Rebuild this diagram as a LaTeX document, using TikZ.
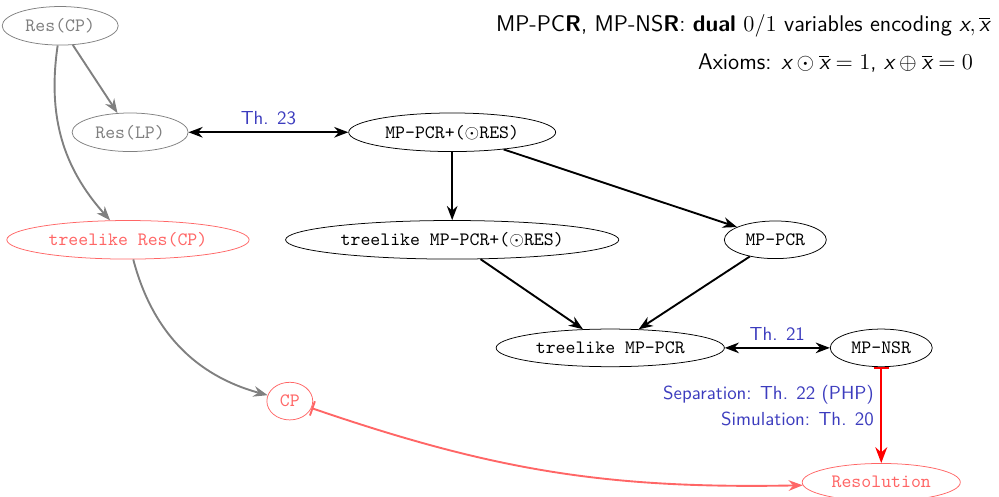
\documentclass[tikz,border=0pt]{standalone}
\usepackage{amsmath}
\usetikzlibrary{arrows.meta,shapes.geometric}
\definecolor{thblue}{RGB}{60,60,190}
\definecolor{lightred}{RGB}{255,102,102}
\begin{document}
\begin{tikzpicture}[
          >={Stealth},
          every node/.style={font=\ttfamily},
          sys/.style={draw, ellipse, minimum height=0.7cm},
          weak/.style={sys, draw=gray, text=gray},
          tree/.style={sys, draw=lightred, text=lightred},
          proves/.style={->, line width=1pt},
          weakproves/.style={->, line width=1pt, gray},
          thm/.style={font=\sffamily, text=thblue}
        ]
        \useasboundingbox (0,0) rectangle (18.58,-9.24);

        % Resolution side
        \node[weak] (rescp) at (1.12,-0.48) {Res(CP)};
        \node[weak] (reslp) at (2.42,-2.46) {Res(LP)};
        \node[tree] (trescp) at (2.38,-4.46) {treelike Res(CP)};
        \node[tree] (cp) at (5.39,-7.46) {CP};
        \node[tree] (resol) at (16.39,-8.97) {Resolution};

        % MP side
        \node[sys] (pcrres) at (8.41,-2.46) {MP-PCR+($\odot$RES)};
        \node[sys] (tpcrres) at (8.41,-4.46) {treelike MP-PCR+($\odot$RES)};
        \node[sys] (pcr) at (14.42,-4.46) {MP-PCR};
        \node[sys] (tpcr) at (11.35,-6.47) {treelike MP-PCR};
        \node[sys] (nsr) at (16.39,-6.47) {MP-NSR};

        % Header text
        \node[font=\sffamily\large, anchor=east] (head) at (18.53,-0.48)
          {MP-PC\textbf{R}, MP-NS\textbf{R}: \textbf{dual} $0/1$ variables encoding $\textsf{\itshape x}, \overline{\textsf{\itshape x}}$};
        \node[font=\sffamily\large, anchor=east] (axioms) at (18.22,-1.17)
          {Axioms: $\textsf{\itshape x}\odot\overline{\textsf{\itshape x}}=1$, $\textsf{\itshape x}\oplus\overline{\textsf{\itshape x}}=0$};

        % Gray edges
        \draw[weakproves] (rescp) -- (reslp);
        \draw[weakproves] (rescp) to[bend right=25] (trescp);
        \draw[weakproves] (trescp) to[bend right=30] (cp);

        % Black edges
        \draw[<->, line width=1pt] (reslp) -- node[thm, above] {Th. 23} (pcrres);
        \draw[proves] (pcrres) -- (tpcrres);
        \draw[proves] (pcrres) -- (pcr);
        \draw[proves] (tpcrres) -- (tpcr);
        \draw[proves] (pcr) -- (tpcr);
        \draw[<->, line width=1pt] (tpcr) -- node[thm, above] {Th. 21} (nsr);

        % Red edges
        \draw[{Bar[width=8pt]}->, red, very thick] (nsr) -- node[thm, left, align=right, pos=0.4]
          {Separation: Th. 22 (PHP)\\[2pt]Simulation: Th. 20} (resol);
        \draw[{Bar[width=8pt]}->, lightred, line width=1pt] (cp) to[bend right=10] (resol);

      \end{tikzpicture}
\end{document}
